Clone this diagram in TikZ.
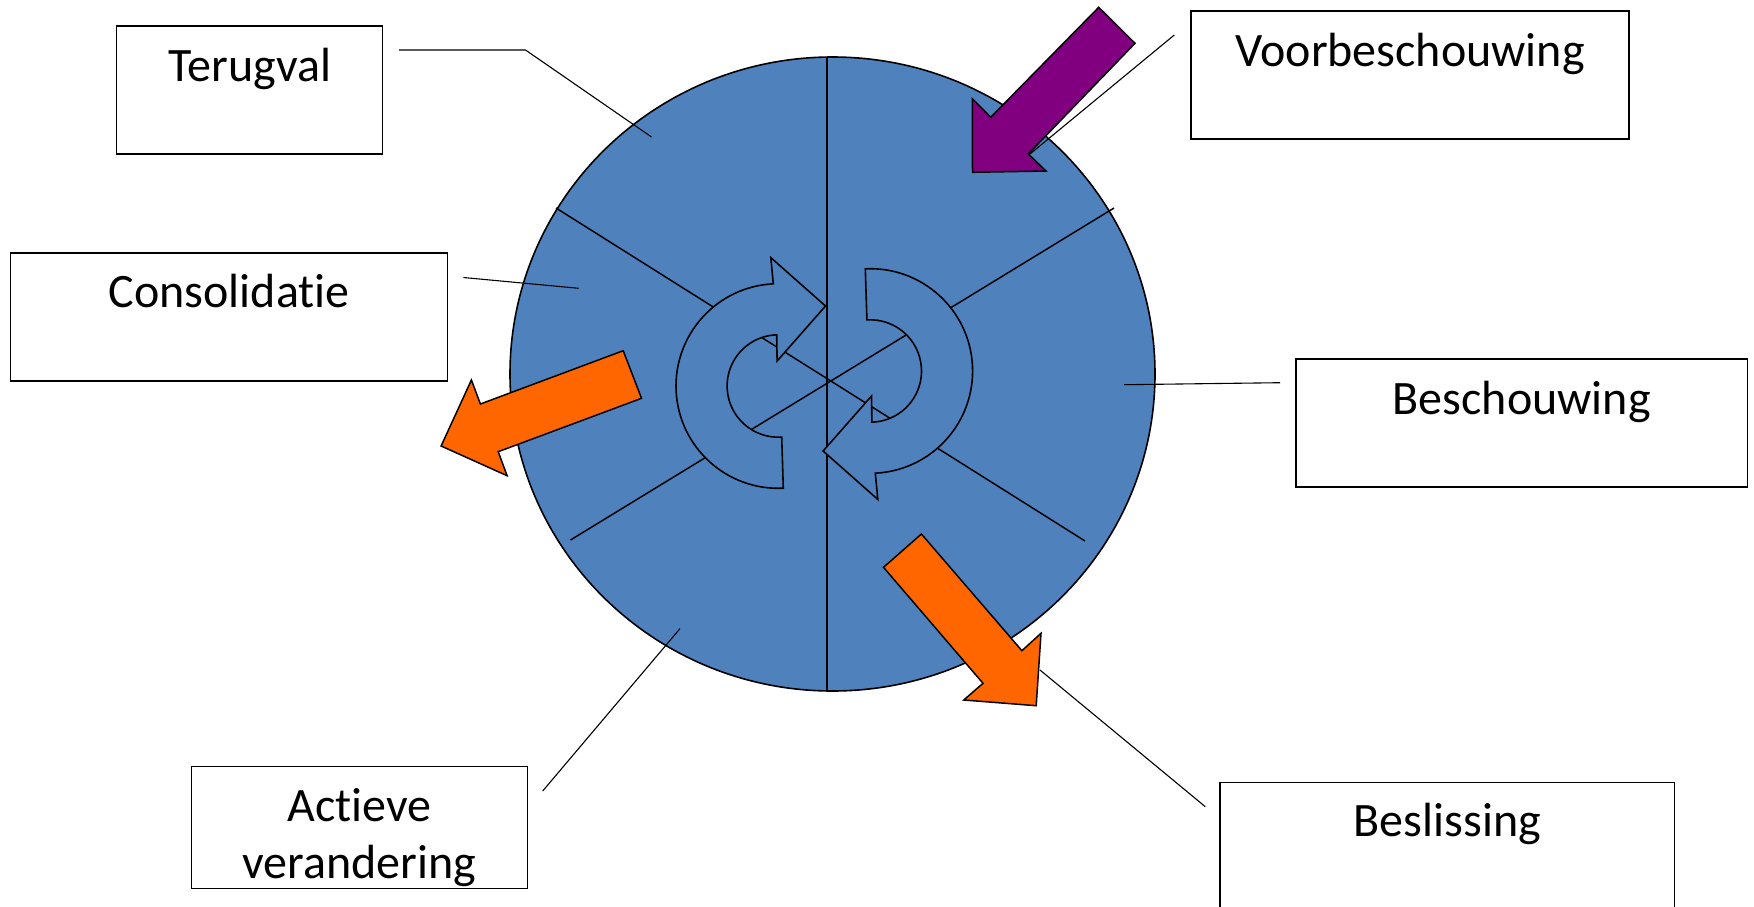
\documentclass[tikz,border=0pt]{standalone}
\usepackage{fontspec}
\setmainfont{Carlito}[Ligatures=NoCommon]
\usetikzlibrary{shapes.geometric}
\definecolor{wheelblue}{HTML}{4F81BD}
\definecolor{orangearrow}{HTML}{FF6600}
\definecolor{purplearrow}{HTML}{800080}
\tikzset{
  labelbox/.style={draw=black, line width=1.3pt, fill=white, rectangle, inner sep=0pt},
  labeltext/.style={anchor=base, inner sep=0pt, font=\fontsize{48}{57}\selectfont},
  connector/.style={draw=black, line width=1.1pt},
  divider/.style={draw=black, line width=1.5pt},
  cyclearrow/.style={draw=black, line width=1.6pt, fill=wheelblue, line join=miter},
  blockarrow/.style={draw=black, line width=1.5pt, line join=miter},
}
\begin{document}
\begin{tikzpicture}[x=1pt,y=1pt]
\useasboundingbox (0,0) rectangle (1754,-906);

% wheel
\node[ellipse, draw=black, line width=1.6pt, fill=wheelblue, minimum width=645, minimum height=634, inner sep=0pt] (wheel) at (832.5,-374) {};

% dividers
\coordinate (vtop) at (827,-57);
\coordinate (vbot) at (827,-691);
\coordinate (d1a) at (556,-208);
\coordinate (d1b) at (1085,-541);
\coordinate (d2a) at (1114,-208);
\coordinate (d2b) at (570.5,-540);
\draw[divider] (vtop) -- (vbot);
\draw[divider] (d1a) -- (d1b);
\draw[divider] (d2a) -- (d2b);

% circular arrows
\foreach \cx/\cy/\rot in {778.3/-386/0, 870.3/-371/180}{
  \begin{scope}[shift={(\cx,\cy)}, rotate=\rot]
    \draw[cyclearrow] (92.8:102.3) arc[start angle=92.8, end angle=272.8, radius=102.3]
      -- (273.8:51.2) arc[start angle=273.8, end angle=91.8, radius=51.2]
      -- (-1.2,25) -- (47.2,80) -- (-7.5,128.4) -- cycle;
  \end{scope}
}

% boxes and texts
\node[labelbox, minimum width=266, minimum height=128] (terugval) at (249.7,-90) {};
\node[labeltext] (terugvalT) at (249.7,-81) {Terugval};
\node[labelbox, minimum width=437, minimum height=128] (consolidatie) at (229.3,-317) {};
\node[labeltext] (consolidatieT) at (229.3,-307) {Consolidatie};
\node[labelbox, minimum width=438, minimum height=128] (voorbeschouwing) at (1410,-75) {};
\node[labeltext] (voorbeschouwingT) at (1410,-66) {Voorbeschouwing};
\node[labelbox, minimum width=451.5, minimum height=128] (beschouwing) at (1521.7,-423) {};
\node[labeltext] (beschouwingT) at (1521.7,-414) {Beschouwing};
\node[labelbox, minimum width=335.6, minimum height=122] (actieve) at (359.5,-827.7) {};
\node[labeltext] (actieveT1) at (359.5,-821.7) {Actieve};
\node[labeltext] (actieveT2) at (359.5,-878.3) {verandering};
\node[labelbox, minimum width=454.5, minimum height=128] (beslissing) at (1447.3,-846.3) {};
\node[labeltext] (beslissingT) at (1447.3,-836.7) {Beslissing};

% connectors
\coordinate (cT1) at (399,-50);
\coordinate (cT2) at (525.5,-50);
\coordinate (cT3) at (651.5,-137);
\draw[connector] (cT1) -- (cT2) -- (cT3);
\coordinate (cC1) at (463.4,-277.5);
\coordinate (cC2) at (578.7,-288.3);
\draw[connector] (cC1) -- (cC2);
\coordinate (cV1) at (1174.3,-35);
\coordinate (cV2) at (1030,-154);
\draw[connector] (cV1) -- (cV2);
\coordinate (cB1) at (1280,-382.7);
\coordinate (cB2) at (1124,-384.7);
\draw[connector] (cB1) -- (cB2);
\coordinate (cA1) at (542.7,-791);
\coordinate (cA2) at (680,-628.6);
\draw[connector] (cA1) -- (cA2);
\coordinate (cS1) at (1205.3,-806.7);
\coordinate (cS2) at (1040,-670);
\draw[connector] (cS1) -- (cS2);

% block arrows
\draw[blockarrow, fill=orangearrow] (623.2,-350.7) -- (480.4,-404) -- (471.4,-380) -- (441.1,-446)
  -- (507.1,-475.7) -- (498.2,-451.7) -- (641.5,-398.3) -- cycle;
\draw[blockarrow, fill=orangearrow] (921.4,-534) -- (1021.9,-650.7) -- (1041,-633.3) -- (1036.2,-705.7)
  -- (963.8,-700) -- (983,-683.3) -- (883.5,-567.3) -- cycle;
\draw[blockarrow, fill=purplearrow] (1098.7,-7.3) -- (1135,-43.3) -- (1028.3,-154) -- (1046,-171)
  -- (972.5,-172.3) -- (972.3,-98.7) -- (990.7,-117.3) -- cycle;
\end{tikzpicture}
\end{document}
